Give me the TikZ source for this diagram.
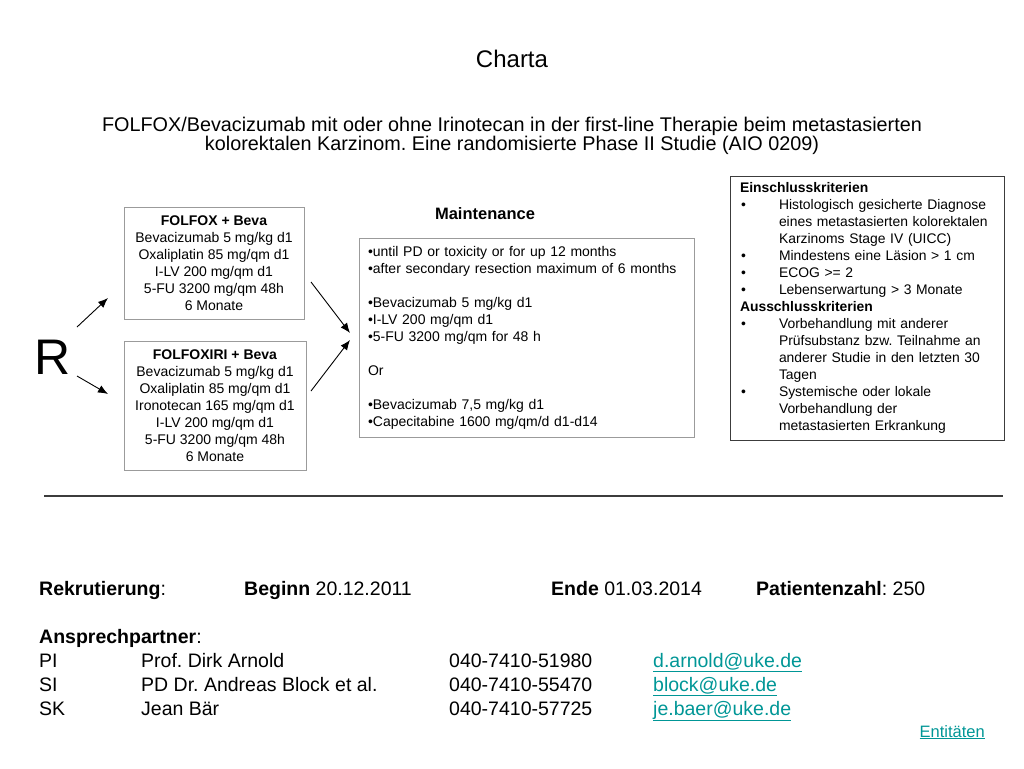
\documentclass[tikz,border=0pt]{standalone}
\usepackage{fontspec}
\setmainfont{Liberation Sans}
\usetikzlibrary{positioning}
\usetikzlibrary{arrows.meta}
\definecolor{linkteal}{RGB}{0,150,150}
\definecolor{boxgray}{RGB}{155,155,155}
\definecolor{rulegray}{RGB}{60,60,60}
\newcommand{\mail}[1]{\textcolor{linkteal}{\underline{#1}}}
\newcommand{\critpt}{\makebox[39pt][l]{\hspace*{1pt}\textbullet}}
\newcommand{\critgo}{\hspace*{39pt}}
\frenchspacing

\begin{document}
\begin{tikzpicture}[x=1pt,y=-1pt,
    armbox/.style={draw=boxgray, line width=0.8pt, align=center, inner sep=0pt,
      font=\fontsize{14}{17}\selectfont},
    mainbox/.style={draw=boxgray, line width=0.8pt, align=left, text width=317pt,
      inner xsep=9pt, inner ysep=0pt, font=\fontsize{14}{17}\selectfont},
    critbox/.style={draw=rulegray, line width=0.8pt, align=left, text width=254pt,
      inner xsep=10pt, inner ysep=0pt, font=\fontsize{13.9}{17}\selectfont},
    randarrow/.style={-{Latex[length=10pt,width=8pt]}, line width=0.9pt},
    foot/.style={anchor=base west, font=\fontsize{19.5}{23}\selectfont, inner sep=0pt}]
    \useasboundingbox (0,0) rectangle (1024,768);
    %% Kopf
    \node (title) at (512,59) {\fontsize{24}{29}\selectfont Charta};
    \node[align=center, font=\fontsize{19.8}{19}\selectfont] (subtitle) at (512,136)
      {FOLFOX/Bevacizumab mit oder ohne Irinotecan in der first-line Therapie beim metastasierten\\
       kolorektalen Karzinom. Eine randomisierte Phase II Studie (AIO 0209)};
    %% Therapiearme
    \node[armbox, minimum width=180pt, minimum height=112pt] (folfox) at (214,263)
      {\textbf{FOLFOX + Beva}\\ Bevacizumab 5 mg/kg d1\\ Oxaliplatin 85 mg/qm d1\\
       I-LV 200 mg/qm d1\\ 5-FU 3200 mg/qm 48h\\ 6 Monate};
    \node[armbox, minimum width=182pt, minimum height=129pt] (folfoxiri) at (215,405.5)
      {\textbf{FOLFOXIRI + Beva}\\ Bevacizumab 5 mg/kg d1\\ Oxaliplatin 85 mg/qm d1\\
       Ironotecan 165 mg/qm d1\\ I-LV 200 mg/qm d1\\ 5-FU 3200 mg/qm 48h\\ 6 Monate};
    \node[font=\fontsize{50}{60}\selectfont] (rand) at (53,357) {R};
    %% Erhaltung
    \node[font=\bfseries\fontsize{16.5}{20}\selectfont] (mainttitle) at (485,214) {Maintenance};
    \node[mainbox, minimum height=199pt] (maint) at (526.5,337.5)
      {\textbullet until PD or toxicity or for up 12 months\\
       \textbullet after secondary resection maximum of 6 months\\[17pt]
       \textbullet Bevacizumab 5 mg/kg d1\\
       \textbullet I-LV 200 mg/qm d1\\
       \textbullet 5-FU 3200 mg/qm for 48 h\\[17pt]
       Or\\[17pt]
       \textbullet Bevacizumab 7,5 mg/kg d1\\
       \textbullet Capecitabine 1600 mg/qm/d d1-d14};
    %% Kriterien
    \node[critbox, minimum height=264pt] (crit) at (867,308)
      {\textbf{Einschlusskriterien}\\
       \critpt Histologisch gesicherte Diagnose\\
       \critgo eines metastasierten kolorektalen\\
       \critgo Karzinoms Stage IV (UICC)\\
       \critpt Mindestens eine Läsion > 1 cm\\
       \critpt ECOG >= 2\\
       \critpt Lebenserwartung > 3 Monate\\
       \textbf{Ausschlusskriterien}\\
       \critpt Vorbehandlung mit anderer\\
       \critgo Prüfsubstanz bzw. Teilnahme an\\
       \critgo anderer Studie in den letzten 30\\
       \critgo Tagen\\
       \critpt Systemische oder lokale\\
       \critgo Vorbehandlung der\\
       \critgo metastasierten Erkrankung};
    %% Pfeile
    \coordinate (r1) at (77,327);
    \coordinate (r2) at (77,376);
    \coordinate (a1) at (108,298);
    \coordinate (a2) at (108,394);
    \coordinate (f1) at (311,282);
    \coordinate (f2) at (311,391);
    \coordinate (m1) at (350,333);
    \coordinate (m2) at (350,340);
    \draw[randarrow] (r1) -- (a1);
    \draw[randarrow] (r2) -- (a2);
    \draw[randarrow] (f1) -- (m1);
    \draw[randarrow] (f2) -- (m2);
    %% Trennlinie
    \coordinate (hl) at (44,496);
    \coordinate (hr) at (1003,496);
    \draw[rulegray, line width=1.5pt] (hl) -- (hr);
    %% Fuss
    \node[foot] (rekr) at (39,595) {\textbf{Rekrutierung}:};
    \node[foot] (beginn) at (244,595) {\textbf{Beginn} 20.12.2011};
    \node[foot] (ende) at (551,595) {\textbf{Ende} 01.03.2014};
    \node[foot] (patz) at (756,595) {\textbf{Patientenzahl}: 250};
    \node[foot] (ansp) at (39,643) {\textbf{Ansprechpartner}:};
    \node[foot] (pi) at (39,667) {PI};
    \node[foot] (pin) at (141,667) {Prof. Dirk Arnold};
    \node[foot] (pit) at (449,667) {040-7410-51980};
    \node[foot] (pim) at (653,667) {\mail{d.arnold@uke.de}};
    \node[foot] (si) at (39,691) {SI};
    \node[foot] (sin) at (141,691) {PD Dr. Andreas Block et al.};
    \node[foot] (sit) at (449,691) {040-7410-55470};
    \node[foot] (sim) at (653,691) {\mail{block@uke.de}};
    \node[foot] (sk) at (39,715) {SK};
    \node[foot] (skn) at (141,715) {Jean Bär};
    \node[foot] (skt) at (449,715) {040-7410-57725};
    \node[foot] (skm) at (653,715) {\mail{je.baer@uke.de}};
    \node[anchor=base east, inner sep=0pt, font=\fontsize{16.5}{20}\selectfont] (entit) at (985,737)
      {\mail{Entitäten}};
\end{tikzpicture}
\end{document}
